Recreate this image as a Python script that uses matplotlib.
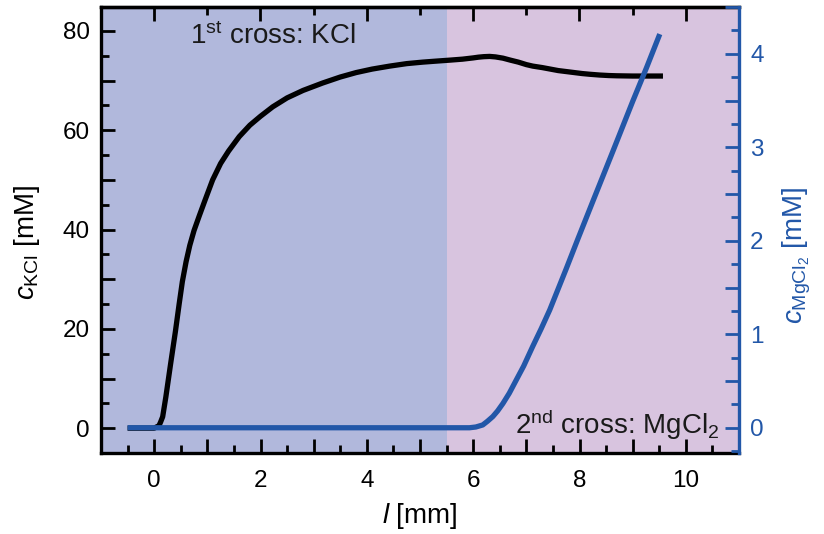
import matplotlib
matplotlib.use("Agg")
import matplotlib.pyplot as plt
from matplotlib.ticker import MultipleLocator, FuncFormatter

# KCl concentration profile along the channel (left axis, mM)
l_kcl = [-0.5, 0.0, 0.09, 0.12, 0.16, 0.22, 0.31, 0.40, 0.47, 0.53, 0.60,
         0.67, 0.75, 0.85, 0.96, 1.10, 1.25, 1.40, 1.60, 1.80, 2.00, 2.23,
         2.50, 2.80, 3.17, 3.50, 3.80, 4.10, 4.43, 4.75, 5.05, 5.30, 5.56,
         5.80, 6.00, 6.10, 6.20, 6.31, 6.42, 6.56, 6.70, 6.85, 7.00, 7.12,
         7.30, 7.45, 7.60, 7.75, 7.90, 8.05, 8.20, 8.38, 8.55, 8.70, 9.00,
         9.30, 9.57]
c_kcl = [0.0, 0.0, 0.5, 1.2, 2.3, 6.3, 13.0, 19.5, 25.0, 29.5, 33.5,
         36.8, 39.8, 42.8, 46.0, 50.0, 53.3, 55.8, 58.7, 61.0, 62.8, 64.7,
         66.5, 68.0, 69.5, 70.7, 71.6, 72.3, 72.9, 73.4, 73.7, 73.9, 74.1,
         74.3, 74.55, 74.7, 74.8, 74.85, 74.75, 74.5, 74.1, 73.7, 73.2, 72.9,
         72.6, 72.3, 72.0, 71.8, 71.6, 71.4, 71.25, 71.1, 71.0, 70.95, 70.9,
         70.9, 70.9]

# MgCl2 concentration profile (right axis, mM)
l_mg = [-0.5, 5.93, 6.05, 6.18, 6.27, 6.37, 6.46, 6.56, 6.68, 6.81, 6.95,
        7.12, 7.28, 7.44, 7.75, 7.97, 8.25, 8.63, 9.00, 9.26, 9.51]
c_mg = [0.0, 0.0, 0.008, 0.03, 0.07, 0.12, 0.18, 0.26, 0.37, 0.51, 0.66,
        0.87, 1.06, 1.26, 1.70, 2.02, 2.42, 2.96, 3.49, 3.85, 4.21]

# Regions of the two crossings
region_edges = [-1.0, 5.5, 11.0]
region_colors = ["#B1B8DC", "#D8C4DF"]

BLUE = "#2257A8"

plt.rcParams["font.family"] = ["Liberation Sans", "DejaVu Sans"]
plt.rcParams["mathtext.fontset"] = "custom"
plt.rcParams["mathtext.rm"] = "Liberation Sans"
plt.rcParams["mathtext.it"] = "Liberation Sans:italic"
plt.rcParams["mathtext.bf"] = "Liberation Sans:bold"
plt.rcParams["font.size"] = 17

TICK_FS = 17.5
LABEL_FS = 20
NOTE_FS = 20

fig = plt.figure(figsize=(8.24, 5.34), dpi=100)
ax = fig.add_axes([101 / 824, 1 - 453 / 534, 638 / 824, 446 / 534])

for i, col in enumerate(region_colors):
    ax.axvspan(region_edges[i], region_edges[i + 1], color=col, lw=0, zorder=0)

ax.plot(l_kcl, c_kcl, color="black", lw=3.8, solid_capstyle="butt", zorder=3)

ax.set_xlim(-1, 11)
ax.set_ylim(-5, 84.8)

ax.xaxis.set_major_locator(MultipleLocator(1))
ax.xaxis.set_minor_locator(MultipleLocator(0.5))
ax.xaxis.set_major_formatter(FuncFormatter(
    lambda v, p: f"{v:.0f}" if abs(v % 2) < 1e-6 and -0.5 < v < 10.5 else ""))
ax.yaxis.set_major_locator(MultipleLocator(10))
ax.yaxis.set_minor_locator(MultipleLocator(5))
ax.yaxis.set_major_formatter(FuncFormatter(
    lambda v, p: f"{v:.0f}" if abs(v % 20) < 1e-6 else ""))

ax.tick_params(axis="x", which="both", direction="in", bottom=True, top=False,
               width=2, pad=12, labelsize=TICK_FS)
ax.tick_params(axis="y", which="both", direction="in", left=True, right=False,
               width=2, pad=8, labelsize=TICK_FS)
ax.tick_params(which="major", length=10)
ax.tick_params(which="minor", length=6)

for side in ["left", "bottom", "top"]:
    ax.spines[side].set_linewidth(2.4)
ax.spines["right"].set_visible(False)

# Top ticks: every 2 mm major, 1 mm minor, no labels
top = ax.secondary_xaxis("top")
top.xaxis.set_major_locator(MultipleLocator(2))
top.xaxis.set_minor_locator(MultipleLocator(1))
top.tick_params(which="both", direction="in", width=2, labeltop=False)
top.tick_params(which="major", length=10)
top.tick_params(which="minor", length=6)
top.spines["top"].set_linewidth(2.4)

ax.set_xlabel(r"$\mathit{l}$ [mm]", fontsize=LABEL_FS, labelpad=7)
ax.set_ylabel(r"$\mathit{c}_{\mathrm{KCl}}$ [mM]", fontsize=LABEL_FS)
ax.yaxis.set_label_coords(-0.092, 0.473)

ax.text(0.1395, 0.917, r"1$^{\mathrm{st}}$ cross: KCl", transform=ax.transAxes,
        ha="left", va="baseline", fontsize=NOTE_FS, color="#1a1a1a", zorder=5)
ax.text(0.970, 0.043, r"2$^{\mathrm{nd}}$ cross: MgCl$_2$", transform=ax.transAxes,
        ha="right", va="baseline", fontsize=NOTE_FS, color="#1a1a1a", zorder=5)

# Right axis for MgCl2
ax2 = ax.twinx()
ax2.plot(l_mg, c_mg, color=BLUE, lw=3.8, solid_capstyle="butt", zorder=3)
ax2.set_ylim(-0.27, 4.5)
ax2.yaxis.set_major_locator(MultipleLocator(0.5))
ax2.yaxis.set_minor_locator(MultipleLocator(0.25))
ax2.yaxis.set_major_formatter(FuncFormatter(
    lambda v, p: f"{v:.0f}" if abs(v - round(v)) < 1e-6 else ""))
ax2.tick_params(axis="y", which="both", direction="in", width=2, pad=8,
                colors=BLUE, labelsize=TICK_FS)
ax2.tick_params(which="major", length=10)
ax2.tick_params(which="minor", length=6)
for side in ["left", "bottom", "top"]:
    ax2.spines[side].set_visible(False)
ax2.spines["right"].set_color(BLUE)
ax2.spines["right"].set_linewidth(2.4)
ax2.set_ylabel(r"$\mathit{c}_{\mathrm{MgCl_2}}$ [mM]", fontsize=LABEL_FS,
               color=BLUE)
ax2.yaxis.set_label_coords(1.066, 0.444)

fig.savefig("out.png", dpi=100)
